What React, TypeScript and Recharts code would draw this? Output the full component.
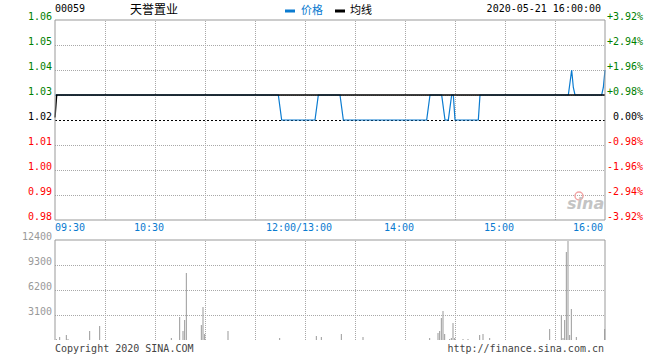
import React from 'react'
import { LineChart, Line, BarChart, Bar, XAxis, YAxis, ReferenceLine } from 'recharts'

// minute index 0..330 (09:30 -> 16:00, lunch merged at 150)
const priceIdx = [0, 134, 135, 136, 156, 157, 158, 171, 172, 173, 223, 224, 225, 232, 233, 234, 236, 237, 238, 239, 240, 254, 255, 308, 309, 310, 311, 312, 328, 329, 330]
const priceVal = [1.03, 1.03, 1.025, 1.02, 1.02, 1.025, 1.03, 1.03, 1.025, 1.02, 1.02, 1.025, 1.03, 1.03, 1.025, 1.02, 1.02, 1.025, 1.03, 1.03, 1.02, 1.02, 1.03, 1.03, 1.035, 1.04, 1.033, 1.03, 1.03, 1.033, 1.04]

const avgIdx = [0, 1, 330]
const avgVal = [1.021, 1.03, 1.03]

const volIdx = [1, 3, 7, 8, 21, 27, 70, 75, 77, 78, 79, 88, 89, 90, 104, 135, 157, 160, 172, 185, 225, 230, 231, 232, 233, 234, 237, 238, 239, 240, 245, 248, 255, 257, 261, 297, 304, 305, 306, 307, 308, 309, 310, 313, 330]
const volVal = [120, 370, 620, 120, 1120, 1740, 250, 2850, 1120, 2480, 8310, 1860, 4090, 740, 1120, 250, 500, 370, 740, 370, 250, 870, 1120, 2730, 3600, 740, 120, 250, 2110, 250, 120, 120, 620, 740, 250, 1360, 3100, 250, 2480, 10910, 12280, 620, 3840, 370, 1360]

const prevClose = 1.02
const priceTicks = [0.98, 0.99, 1.0, 1.01, 1.02, 1.03, 1.04, 1.05, 1.06]
const priceGrid = [0.99, 1.0, 1.01, 1.03, 1.04, 1.05]
const volTicks = [0, 3100, 6200, 9300, 12400]
const volGrid = [3100, 6200, 9300]
const gridIdx = [0, 30, 60, 90, 120, 150, 180, 210, 240, 270, 300, 330]
const innerGridIdx = [30, 60, 90, 120, 150, 180, 210, 240, 270, 300]
const timeIdx = [0, 60, 150, 210, 270, 330]
const timeText = ['09:30', '10:30', '12:00/13:00', '14:00', '15:00', '16:00']

const priceData = priceIdx.map((i, k) => ({ i, v: priceVal[k] }))
const avgData = avgIdx.map((i, k) => ({ i, v: avgVal[k] }))
const volData = volIdx.map((i, k) => ({ i, v: volVal[k] }))

const MONO = '"DejaVu Sans Mono", monospace'
const CJK = '"Noto Sans CJK SC", sans-serif'
const BLUE = '#0a7bd0'
const FRAME = '#999'
const GRID = '#a8a8a8'

const colorFor = (v: number) => {
  const d = Math.round((v - prevClose) * 1000)
  if (d > 0) return '#008000'
  if (d < 0) return '#ff0000'
  return '#000'
}

// snap a reference line onto the pixel grid so 1px dots stay sharp
const Crisp = (p: any) => {
  if (p.x1 == null || p.y1 == null) return <g />
  const vert = Math.abs(p.x1 - p.x2) < 0.01
  const x1 = vert ? Math.round(p.x1) + 0.5 : p.x1
  const x2 = vert ? Math.round(p.x2) + 0.5 : p.x2
  const y1 = vert ? p.y1 : Math.round(p.y1) + 0.5
  const y2 = vert ? p.y2 : Math.round(p.y2) + 0.5
  return <line x1={x1} y1={y1} x2={x2} y2={y2} stroke={p.stroke} strokeWidth={1} strokeDasharray={p.strokeDasharray} fill="none" />
}

const LeftTick = (props: any) => {
  const v = props.payload.value
  return (
    <text x={52} y={props.y} textAnchor="end" fontFamily={MONO} fontSize={10} fill={colorFor(v)}>
      {v.toFixed(2)}
    </text>
  )
}

const RightTick = (props: any) => {
  const v = props.payload.value
  const pct = ((v - prevClose) / prevClose) * 100
  const s = (pct > 0.001 ? '+' : pct < -0.001 ? '-' : '') + Math.abs(pct).toFixed(2) + '%'
  return (
    <text x={643} y={props.y} textAnchor="end" fontFamily={MONO} fontSize={10} fill={colorFor(v)}>
      {s}
    </text>
  )
}

const TimeTick = (props: any) => {
  const k = timeIdx.indexOf(props.payload.value)
  if (k < 0) return <g />
  const x = props.x
  let anchor = 'middle'
  let tx = x - 6
  if (k === 0) { anchor = 'start'; tx = x }
  if (k === timeIdx.length - 1) { anchor = 'end'; tx = x - 2 }
  return (
    <text x={tx} y={231} textAnchor={anchor} fontFamily={MONO} fontSize={10} fill={BLUE}>
      {timeText[k]}
    </text>
  )
}

const VolTick = (props: any) => {
  const v = props.payload.value
  if (v === 0) return <g />
  return (
    <text x={52} y={props.y} textAnchor="end" fontFamily={MONO} fontSize={10} fill="#999">
      {v}
    </text>
  )
}

export default function App() {
  return (
    <div style={{ position: 'absolute', left: 0, top: 0, width: 660, height: 360, background: '#fff' }}>
      <div style={{ position: 'absolute', left: 0, top: 0 }}>
        <LineChart width={660} height={240} margin={{ top: 20, right: 0, bottom: 0, left: 0 }}>
          <XAxis dataKey="i" type="number" domain={[0, 330]} ticks={gridIdx} interval={0} height={20}
            axisLine={{ stroke: FRAME }} tickLine={false} tick={TimeTick} />
          <YAxis yAxisId="l" domain={[0.98, 1.06]} ticks={priceTicks} interval={0} width={55}
            axisLine={{ stroke: FRAME }} tickLine={false} tick={LeftTick} />
          <YAxis yAxisId="r" orientation="right" domain={[0.98, 1.06]} ticks={priceTicks} interval={0} width={55}
            axisLine={{ stroke: FRAME }} tickLine={false} tick={RightTick} />
          {innerGridIdx.map((i) => (
            <ReferenceLine key={'x' + i} yAxisId="l" x={i} stroke={GRID} strokeDasharray="1 1" shape={Crisp} />
          ))}
          {priceGrid.map((v) => (
            <ReferenceLine key={'y' + v} yAxisId="l" y={v} stroke={GRID} strokeDasharray="1 1" shape={Crisp} />
          ))}
          <ReferenceLine yAxisId="l" y={1.06} stroke={FRAME} />
          <ReferenceLine yAxisId="l" y={prevClose} stroke="#000" strokeDasharray="2 2" shape={Crisp} />
          <Line yAxisId="l" data={priceData} dataKey="v" type="linear" stroke={BLUE} strokeWidth={1.2}
            dot={false} activeDot={false} isAnimationActive={false} />
          <Line yAxisId="r" data={avgData} dataKey="v" type="linear" stroke="#000" strokeWidth={1.4}
            dot={false} activeDot={false} isAnimationActive={false} />
        </LineChart>
      </div>
      <div style={{ position: 'absolute', left: 0, top: 230 }}>
        <BarChart width={660} height={130} data={volData} margin={{ top: 10, right: 0, bottom: 20, left: 0 }}>
          <XAxis dataKey="i" type="number" domain={[0, 330]} ticks={gridIdx} interval={0} height={0}
            axisLine={{ stroke: FRAME }} tickLine={false} tick={false} />
          <YAxis yAxisId="l" domain={[0, 12400]} ticks={volTicks} interval={0} width={55}
            axisLine={{ stroke: FRAME }} tickLine={false} tick={VolTick} />
          <YAxis yAxisId="r" orientation="right" domain={[0, 12400]} ticks={volTicks} width={55}
            axisLine={{ stroke: FRAME }} tickLine={false} tick={false} />
          {innerGridIdx.map((i) => (
            <ReferenceLine key={'x' + i} yAxisId="l" x={i} stroke={GRID} strokeDasharray="1 1" shape={Crisp} />
          ))}
          {volGrid.map((v) => (
            <ReferenceLine key={'y' + v} yAxisId="l" y={v} stroke={GRID} strokeDasharray="1 1" shape={Crisp} />
          ))}
          <ReferenceLine yAxisId="l" y={12400} stroke={FRAME} />
          <Bar yAxisId="l" dataKey="v" fill="#999" barSize={1} isAnimationActive={false} />
        </BarChart>
      </div>
      <svg width={660} height={360} style={{ position: 'absolute', left: 0, top: 0, pointerEvents: 'none' }}>
        <text x={55} y={12} fontFamily={MONO} fontSize={10} fill="#000">00059</text>
        <text x={130} y={14} fontFamily={CJK} fontSize={12} fill="#000">天誉置业</text>
        <rect x={285} y={9.5} width={10} height={3} fill={BLUE} />
        <text x={301} y={14} fontFamily={CJK} fontSize={11} fill={BLUE}>价格</text>
        <rect x={335} y={9.5} width={10} height={3} fill="#000" />
        <text x={350} y={14} fontFamily={CJK} fontSize={11} fill="#000">均线</text>
        <text x={601} y={12} textAnchor="end" fontFamily={MONO} fontSize={10} fill="#000">2020-05-21 16:00:00</text>
        <circle cx={579} cy={196} r={4} fill="none" stroke="#f2a5a5" strokeWidth={1.5} />
        <text x={567} y={209} fontFamily="DejaVu Sans, sans-serif" fontStyle="italic" fontWeight="bold" fontSize={16} fill="#c4c4c4">sina</text>
        <text x={55} y={352} fontFamily={MONO} fontSize={10} fill="#444">Copyright 2020 SINA.COM</text>
        <text x={604} y={352} textAnchor="end" fontFamily={MONO} fontSize={10} fill="#444">http://finance.sina.com.cn</text>
      </svg>
    </div>
  )
}
